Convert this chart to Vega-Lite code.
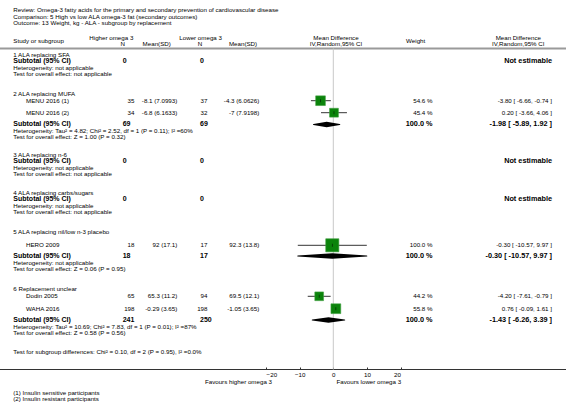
{
  "$schema": "https://vega.github.io/schema/vega-lite/v6.json",
  "width": 566,
  "height": 414,
  "padding": 0,
  "autosize": {"type": "none"},
  "background": "white",
  "config": {
    "view": {"stroke": null},
    "text": {"font": "Liberation Sans", "fontSize": 6.2, "baseline": "middle", "color": "black"}
  },
  "datasets": {
    "txt": [
      {"t": "Review:  Omega-3 fatty acids for the primary and secondary prevention of cardiovascular disease", "row": 1, "col": 1, "k": "l"},
      {"t": "Comparison:  5 High vs low ALA omega-3 fat (secondary outcomes)", "row": 2, "col": 1, "k": "l"},
      {"t": "Outcome:  13 Weight, kg - ALA - subgroup by replacement", "row": 3, "col": 1, "k": "l"},
      {"t": "Study or subgroup", "row": 5, "col": 1, "k": "l"},
      {"t": "Higher omega 3", "row": 4, "col": 3, "k": "l"},
      {"t": "Lower omega 3", "row": 4, "col": 8, "k": "l"},
      {"t": "1 ALA replacing SFA", "row": 8, "col": 1, "k": "l"},
      {"t": "Heterogeneity: not applicable", "row": 10, "col": 1, "k": "l"},
      {"t": "Test for overall effect: not applicable", "row": 11, "col": 1, "k": "l"},
      {"t": "2 ALA replacing MUFA", "row": 12, "col": 1, "k": "l"},
      {"t": "MENU 2016 (1)", "row": 13, "col": 2, "k": "l"},
      {"t": "MENU 2016 (2)", "row": 14, "col": 2, "k": "l"},
      {"t": "Heterogeneity: Tau² = 4.82; Chi² = 2.52, df = 1 (P = 0.11); I² =60%", "row": 16, "col": 1, "k": "l"},
      {"t": "Test for overall effect: Z = 1.00 (P = 0.32)", "row": 17, "col": 1, "k": "l"},
      {"t": "3 ALA replacing n-6", "row": 18, "col": 1, "k": "l"},
      {"t": "Heterogeneity: not applicable", "row": 20, "col": 1, "k": "l"},
      {"t": "Test for overall effect: not applicable", "row": 21, "col": 1, "k": "l"},
      {"t": "4 ALA replacing carbs/sugars", "row": 22, "col": 1, "k": "l"},
      {"t": "Heterogeneity: not applicable", "row": 24, "col": 1, "k": "l"},
      {"t": "Test for overall effect: not applicable", "row": 25, "col": 1, "k": "l"},
      {"t": "5 ALA replacing nil/low n-3 placebo", "row": 26, "col": 1, "k": "l"},
      {"t": "HERO 2009", "row": 27, "col": 2, "k": "l"},
      {"t": "Heterogeneity: not applicable", "row": 29, "col": 1, "k": "l"},
      {"t": "Test for overall effect: Z = 0.06 (P = 0.95)", "row": 30, "col": 1, "k": "l"},
      {"t": "6 Replacement unclear", "row": 31, "col": 1, "k": "l"},
      {"t": "Dodin 2005", "row": 32, "col": 2, "k": "l"},
      {"t": "WAHA 2016", "row": 33, "col": 2, "k": "l"},
      {"t": "Heterogeneity: Tau² = 10.69; Chi² = 7.83, df = 1 (P = 0.01); I² =87%", "row": 35, "col": 1, "k": "l"},
      {"t": "Test for overall effect: Z = 0.58 (P = 0.56)", "row": 36, "col": 1, "k": "l"},
      {"t": "Test for subgroup differences: Chi² = 0.10, df = 2 (P = 0.95), I² =0.0%", "row": 37, "col": 1, "k": "l"},
      {"t": "Favours lower omega 3", "row": 39, "col": 15, "k": "l"},
      {"t": "(1) Insulin sensitive participants", "row": 40, "col": 1, "k": "l"},
      {"t": "(2) Insulin resistant participants", "row": 41, "col": 1, "k": "l"},

      {"t": "Favours higher omega 3", "row": 39, "col": 13, "k": "r"},
      {"t": "35", "row": 13, "col": 5, "k": "r"},
      {"t": "-8.1 (7.0993)", "row": 13, "col": 7, "k": "r"},
      {"t": "37", "row": 13, "col": 10, "k": "r"},
      {"t": "-4.3 (6.0626)", "row": 13, "col": 12, "k": "r"},
      {"t": "54.6 %", "row": 13, "col": 17, "k": "r"},
      {"t": "-3.80 [ -6.66, -0.74 ]", "row": 13, "col": 19, "k": "r"},
      {"t": "34", "row": 14, "col": 5, "k": "r"},
      {"t": "-6.8 (6.1633)", "row": 14, "col": 7, "k": "r"},
      {"t": "32", "row": 14, "col": 10, "k": "r"},
      {"t": "-7 (7.9198)", "row": 14, "col": 12, "k": "r"},
      {"t": "45.4 %", "row": 14, "col": 17, "k": "r"},
      {"t": "0.20 [ -3.66, 4.06 ]", "row": 14, "col": 19, "k": "r"},
      {"t": "18", "row": 27, "col": 5, "k": "r"},
      {"t": "92 (17.1)", "row": 27, "col": 7, "k": "r"},
      {"t": "17", "row": 27, "col": 10, "k": "r"},
      {"t": "92.3 (13.8)", "row": 27, "col": 12, "k": "r"},
      {"t": "100.0 %", "row": 27, "col": 17, "k": "r"},
      {"t": "-0.30 [ -10.57, 9.97 ]", "row": 27, "col": 19, "k": "r"},
      {"t": "65", "row": 32, "col": 5, "k": "r"},
      {"t": "65.3 (11.2)", "row": 32, "col": 7, "k": "r"},
      {"t": "94", "row": 32, "col": 10, "k": "r"},
      {"t": "69.5 (12.1)", "row": 32, "col": 12, "k": "r"},
      {"t": "44.2 %", "row": 32, "col": 17, "k": "r"},
      {"t": "-4.20 [ -7.61, -0.79 ]", "row": 32, "col": 19, "k": "r"},
      {"t": "198", "row": 33, "col": 5, "k": "r"},
      {"t": "-0.29 (3.65)", "row": 33, "col": 7, "k": "r"},
      {"t": "198", "row": 33, "col": 10, "k": "r"},
      {"t": "-1.05 (3.65)", "row": 33, "col": 12, "k": "r"},
      {"t": "55.8 %", "row": 33, "col": 17, "k": "r"},
      {"t": "0.76 [ -0.09, 1.61 ]", "row": 33, "col": 19, "k": "r"},

      {"t": "Mean Difference", "row": 4, "col": 14, "k": "c"},
      {"t": "Mean Difference", "row": 4, "col": 18, "k": "c"},
      {"t": "Weight", "row": 5, "col": 16, "k": "c"},
      {"t": "N", "row": 6, "col": 4, "k": "c"},
      {"t": "Mean(SD)", "row": 6, "col": 6, "k": "c"},
      {"t": "N", "row": 6, "col": 9, "k": "c"},
      {"t": "Mean(SD)", "row": 6, "col": 11, "k": "c"},
      {"t": "IV,Random,95% CI", "row": 6, "col": 14, "k": "c"},
      {"t": "IV,Random,95% CI", "row": 6, "col": 18, "k": "c"},

      {"t": "Subtotal (95% CI)", "row": 9, "col": 1, "k": "b"},
      {"t": "0", "row": 9, "col": 4, "k": "b"},
      {"t": "0", "row": 9, "col": 9, "k": "b"},
      {"t": "Subtotal (95% CI)", "row": 15, "col": 1, "k": "b"},
      {"t": "69", "row": 15, "col": 4, "k": "b"},
      {"t": "69", "row": 15, "col": 9, "k": "b"},
      {"t": "Subtotal (95% CI)", "row": 19, "col": 1, "k": "b"},
      {"t": "0", "row": 19, "col": 4, "k": "b"},
      {"t": "0", "row": 19, "col": 9, "k": "b"},
      {"t": "Subtotal (95% CI)", "row": 23, "col": 1, "k": "b"},
      {"t": "0", "row": 23, "col": 4, "k": "b"},
      {"t": "0", "row": 23, "col": 9, "k": "b"},
      {"t": "Subtotal (95% CI)", "row": 28, "col": 1, "k": "b"},
      {"t": "18", "row": 28, "col": 4, "k": "b"},
      {"t": "17", "row": 28, "col": 9, "k": "b"},
      {"t": "Subtotal (95% CI)", "row": 34, "col": 1, "k": "b"},
      {"t": "241", "row": 34, "col": 4, "k": "b"},
      {"t": "250", "row": 34, "col": 9, "k": "b"},

      {"t": "Not estimable", "row": 9, "col": 19, "k": "br"},
      {"t": "100.0 %", "row": 15, "col": 17, "k": "br"},
      {"t": "-1.98 [ -5.89, 1.92 ]", "row": 15, "col": 19, "k": "br"},
      {"t": "Not estimable", "row": 19, "col": 19, "k": "br"},
      {"t": "Not estimable", "row": 23, "col": 19, "k": "br"},
      {"t": "100.0 %", "row": 28, "col": 17, "k": "br"},
      {"t": "-0.30 [ -10.57, 9.97 ]", "row": 28, "col": 19, "k": "br"},
      {"t": "100.0 %", "row": 34, "col": 17, "k": "br"},
      {"t": "-1.43 [ -6.26, 3.39 ]", "row": 34, "col": 19, "k": "br"}
    ],
    "st": [
      {"study": "MENU 2016 (1)", "row": 13, "md": -3.80, "lo": -6.66, "hi": -0.74, "w": 54.6},
      {"study": "MENU 2016 (2)", "row": 14, "md": 0.20, "lo": -3.66, "hi": 4.06, "w": 45.4},
      {"study": "HERO 2009", "row": 27, "md": -0.30, "lo": -10.57, "hi": 9.97, "w": 100},
      {"study": "Dodin 2005", "row": 32, "md": -4.20, "lo": -7.61, "hi": -0.79, "w": 44.2},
      {"study": "WAHA 2016", "row": 33, "md": 0.76, "lo": -0.09, "hi": 1.61, "w": 55.8}
    ],
    "dm": [
      {"g": "MUFA", "row": 15, "md": -5.89, "h": 0},
      {"g": "MUFA", "row": 15, "md": -1.98, "h": 1},
      {"g": "MUFA", "row": 15, "md": 1.92, "h": 0},
      {"g": "placebo", "row": 28, "md": -10.57, "h": 0},
      {"g": "placebo", "row": 28, "md": -0.30, "h": 1},
      {"g": "placebo", "row": 28, "md": 9.97, "h": 0},
      {"g": "unclear", "row": 34, "md": -6.26, "h": 0},
      {"g": "unclear", "row": 34, "md": -1.43, "h": 1},
      {"g": "unclear", "row": 34, "md": 3.39, "h": 0}
    ],
    "ln": [
      {"k": "hdr", "row": 7, "c1": 0, "c2": 20},
      {"k": "axis", "row": 38, "c1": 0, "c2": 20}
    ],
    "zero": [
      {"md": 0, "r1": 7, "r2": 38}
    ]
  },
  "resolve": {"scale": {"x": "independent", "size": "independent"}},
  "layer": [
    {
      "data": {"name": "ln"},
      "transform": [{"filter": "datum.k === 'hdr'"}],
      "mark": {"type": "rule", "color": "#9a9a9a", "strokeWidth": 2},
      "encoding": {
        "x": {"field": "c1", "type": "quantitative", "axis": null, "scale": {"domain": [0,1,2,3,4,5,6,7,8,9,10,11,12,13,14,15,16,17,18,19,20], "range": [0,13.3,26,89.3,122.7,134.5,156.7,177.3,179.3,200,207.5,243,259.3,272,336,336.5,415.7,432.5,518.3,552,566], "zero": false, "nice": false}},
        "x2": {"field": "c2"},
        "y": {"field": "row", "type": "quantitative", "axis": null, "scale": {"domain": [1,2,3,4,5,6,7,8,9,10,11,12,13,14,15,16,17,18,19,20,21,22,23,24,25,26,27,28,29,30,31,32,33,34,35,36,37,38,39,40,41], "range": [10.3,16.5,22.7,37.5,40.7,43.9,48.5,54.5,61.3,68,74.2,94.3,100.7,112.7,124.4,131,137.2,154.5,161.3,168,174.2,192.5,199.3,206,212.2,232,245.3,256,262.8,269,289,296.3,308.7,320,326.8,333,352,369.5,382.3,392.8,399.2], "zero": false, "nice": false}}
      }
    },
    {
      "data": {"name": "ln"},
      "transform": [{"filter": "datum.k === 'axis'"}],
      "mark": {"type": "rule", "color": "#333333", "strokeWidth": 1},
      "encoding": {
        "x": {"field": "c1", "type": "quantitative", "axis": null, "scale": {"domain": [0,1,2,3,4,5,6,7,8,9,10,11,12,13,14,15,16,17,18,19,20], "range": [0,13.3,26,89.3,122.7,134.5,156.7,177.3,179.3,200,207.5,243,259.3,272,336,336.5,415.7,432.5,518.3,552,566], "zero": false, "nice": false}},
        "x2": {"field": "c2"},
        "y": {"field": "row", "type": "quantitative", "axis": null, "scale": {"domain": [1,2,3,4,5,6,7,8,9,10,11,12,13,14,15,16,17,18,19,20,21,22,23,24,25,26,27,28,29,30,31,32,33,34,35,36,37,38,39,40,41], "range": [10.3,16.5,22.7,37.5,40.7,43.9,48.5,54.5,61.3,68,74.2,94.3,100.7,112.7,124.4,131,137.2,154.5,161.3,168,174.2,192.5,199.3,206,212.2,232,245.3,256,262.8,269,289,296.3,308.7,320,326.8,333,352,369.5,382.3,392.8,399.2], "zero": false, "nice": false}}
      }
    },
    {
      "data": {"name": "zero"},
      "mark": {"type": "rule", "color": "#c8c8c8", "strokeWidth": 1},
      "encoding": {
        "x": {"field": "md", "type": "quantitative", "scale": {"domain": [-20, 20], "range": [266.1, 400.5], "zero": false, "nice": false},
          "axis": {"values": [-20, -10, 0, 10, 20], "format": "d", "orient": "bottom", "offset": -44.5, "domain": false, "grid": false, "ticks": true, "tickSize": -2.5, "tickColor": "#333333", "tickWidth": 1, "labelFont": "Liberation Sans", "labelFontSize": 6.2, "labelColor": "black", "labelPadding": 4.8, "title": null}},
        "y": {"field": "r1", "type": "quantitative", "axis": null, "scale": {"domain": [1,2,3,4,5,6,7,8,9,10,11,12,13,14,15,16,17,18,19,20,21,22,23,24,25,26,27,28,29,30,31,32,33,34,35,36,37,38,39,40,41], "range": [10.3,16.5,22.7,37.5,40.7,43.9,48.5,54.5,61.3,68,74.2,94.3,100.7,112.7,124.4,131,137.2,154.5,161.3,168,174.2,192.5,199.3,206,212.2,232,245.3,256,262.8,269,289,296.3,308.7,320,326.8,333,352,369.5,382.3,392.8,399.2], "zero": false, "nice": false}},
        "y2": {"field": "r2"}
      }
    },
    {
      "data": {"name": "st"},
      "mark": {"type": "rule", "color": "black", "strokeWidth": 0.8},
      "encoding": {
        "x": {"field": "lo", "type": "quantitative", "axis": null, "scale": {"domain": [-20, 20], "range": [266.1, 400.5], "zero": false, "nice": false}},
        "x2": {"field": "hi"},
        "y": {"field": "row", "type": "quantitative", "axis": null, "scale": {"domain": [1,2,3,4,5,6,7,8,9,10,11,12,13,14,15,16,17,18,19,20,21,22,23,24,25,26,27,28,29,30,31,32,33,34,35,36,37,38,39,40,41], "range": [10.3,16.5,22.7,37.5,40.7,43.9,48.5,54.5,61.3,68,74.2,94.3,100.7,112.7,124.4,131,137.2,154.5,161.3,168,174.2,192.5,199.3,206,212.2,232,245.3,256,262.8,269,289,296.3,308.7,320,326.8,333,352,369.5,382.3,392.8,399.2], "zero": false, "nice": false}}
      }
    },
    {
      "data": {"name": "st"},
      "mark": {"type": "point", "shape": "square", "filled": true, "fill": "#0b830b", "stroke": "#3f9f3f", "strokeWidth": 0.6, "opacity": 1},
      "encoding": {
        "x": {"field": "md", "type": "quantitative", "axis": null, "scale": {"domain": [-20, 20], "range": [266.1, 400.5], "zero": false, "nice": false}},
        "y": {"field": "row", "type": "quantitative", "axis": null, "scale": {"domain": [1,2,3,4,5,6,7,8,9,10,11,12,13,14,15,16,17,18,19,20,21,22,23,24,25,26,27,28,29,30,31,32,33,34,35,36,37,38,39,40,41], "range": [10.3,16.5,22.7,37.5,40.7,43.9,48.5,54.5,61.3,68,74.2,94.3,100.7,112.7,124.4,131,137.2,154.5,161.3,168,174.2,192.5,199.3,206,212.2,232,245.3,256,262.8,269,289,296.3,308.7,320,326.8,333,352,369.5,382.3,392.8,399.2], "zero": false, "nice": false}},
        "size": {"field": "w", "type": "quantitative", "legend": null, "scale": {"domain": [0, 100], "range": [0, 172], "zero": true}}
      }
    },
    {
      "data": {"name": "st"},
      "mark": {"type": "tick", "orient": "vertical", "color": "black", "size": 3, "thickness": 0.7},
      "encoding": {
        "x": {"field": "md", "type": "quantitative", "axis": null, "scale": {"domain": [-20, 20], "range": [266.1, 400.5], "zero": false, "nice": false}},
        "y": {"field": "row", "type": "quantitative", "axis": null, "scale": {"domain": [1,2,3,4,5,6,7,8,9,10,11,12,13,14,15,16,17,18,19,20,21,22,23,24,25,26,27,28,29,30,31,32,33,34,35,36,37,38,39,40,41], "range": [10.3,16.5,22.7,37.5,40.7,43.9,48.5,54.5,61.3,68,74.2,94.3,100.7,112.7,124.4,131,137.2,154.5,161.3,168,174.2,192.5,199.3,206,212.2,232,245.3,256,262.8,269,289,296.3,308.7,320,326.8,333,352,369.5,382.3,392.8,399.2], "zero": false, "nice": false}}
      }
    },
    {
      "data": {"name": "dm"},
      "mark": {"type": "trail", "color": "black"},
      "encoding": {
        "x": {"field": "md", "type": "quantitative", "axis": null, "scale": {"domain": [-20, 20], "range": [266.1, 400.5], "zero": false, "nice": false}},
        "y": {"field": "row", "type": "quantitative", "axis": null, "scale": {"domain": [1,2,3,4,5,6,7,8,9,10,11,12,13,14,15,16,17,18,19,20,21,22,23,24,25,26,27,28,29,30,31,32,33,34,35,36,37,38,39,40,41], "range": [10.3,16.5,22.7,37.5,40.7,43.9,48.5,54.5,61.3,68,74.2,94.3,100.7,112.7,124.4,131,137.2,154.5,161.3,168,174.2,192.5,199.3,206,212.2,232,245.3,256,262.8,269,289,296.3,308.7,320,326.8,333,352,369.5,382.3,392.8,399.2], "zero": false, "nice": false}},
        "size": {"field": "h", "type": "quantitative", "legend": null, "scale": {"domain": [0, 1], "range": [0, 5.5]}},
        "detail": {"field": "g"},
        "order": {"field": "md", "type": "quantitative"}
      }
    },
    {
      "data": {"name": "txt"},
      "transform": [{"filter": "datum.k === 'l'"}],
      "mark": {"type": "text", "align": "left"},
      "encoding": {
        "x": {"field": "col", "type": "quantitative", "axis": null, "scale": {"domain": [0,1,2,3,4,5,6,7,8,9,10,11,12,13,14,15,16,17,18,19,20], "range": [0,13.3,26,89.3,122.7,134.5,156.7,177.3,179.3,200,207.5,243,259.3,272,336,336.5,415.7,432.5,518.3,552,566], "zero": false, "nice": false}},
        "y": {"field": "row", "type": "quantitative", "axis": null, "scale": {"domain": [1,2,3,4,5,6,7,8,9,10,11,12,13,14,15,16,17,18,19,20,21,22,23,24,25,26,27,28,29,30,31,32,33,34,35,36,37,38,39,40,41], "range": [10.3,16.5,22.7,37.5,40.7,43.9,48.5,54.5,61.3,68,74.2,94.3,100.7,112.7,124.4,131,137.2,154.5,161.3,168,174.2,192.5,199.3,206,212.2,232,245.3,256,262.8,269,289,296.3,308.7,320,326.8,333,352,369.5,382.3,392.8,399.2], "zero": false, "nice": false}},
        "text": {"field": "t"}
      }
    },
    {
      "data": {"name": "txt"},
      "transform": [{"filter": "datum.k === 'r'"}],
      "mark": {"type": "text", "align": "right"},
      "encoding": {
        "x": {"field": "col", "type": "quantitative", "axis": null, "scale": {"domain": [0,1,2,3,4,5,6,7,8,9,10,11,12,13,14,15,16,17,18,19,20], "range": [0,13.3,26,89.3,122.7,134.5,156.7,177.3,179.3,200,207.5,243,259.3,272,336,336.5,415.7,432.5,518.3,552,566], "zero": false, "nice": false}},
        "y": {"field": "row", "type": "quantitative", "axis": null, "scale": {"domain": [1,2,3,4,5,6,7,8,9,10,11,12,13,14,15,16,17,18,19,20,21,22,23,24,25,26,27,28,29,30,31,32,33,34,35,36,37,38,39,40,41], "range": [10.3,16.5,22.7,37.5,40.7,43.9,48.5,54.5,61.3,68,74.2,94.3,100.7,112.7,124.4,131,137.2,154.5,161.3,168,174.2,192.5,199.3,206,212.2,232,245.3,256,262.8,269,289,296.3,308.7,320,326.8,333,352,369.5,382.3,392.8,399.2], "zero": false, "nice": false}},
        "text": {"field": "t"}
      }
    },
    {
      "data": {"name": "txt"},
      "transform": [{"filter": "datum.k === 'c'"}],
      "mark": {"type": "text", "align": "center"},
      "encoding": {
        "x": {"field": "col", "type": "quantitative", "axis": null, "scale": {"domain": [0,1,2,3,4,5,6,7,8,9,10,11,12,13,14,15,16,17,18,19,20], "range": [0,13.3,26,89.3,122.7,134.5,156.7,177.3,179.3,200,207.5,243,259.3,272,336,336.5,415.7,432.5,518.3,552,566], "zero": false, "nice": false}},
        "y": {"field": "row", "type": "quantitative", "axis": null, "scale": {"domain": [1,2,3,4,5,6,7,8,9,10,11,12,13,14,15,16,17,18,19,20,21,22,23,24,25,26,27,28,29,30,31,32,33,34,35,36,37,38,39,40,41], "range": [10.3,16.5,22.7,37.5,40.7,43.9,48.5,54.5,61.3,68,74.2,94.3,100.7,112.7,124.4,131,137.2,154.5,161.3,168,174.2,192.5,199.3,206,212.2,232,245.3,256,262.8,269,289,296.3,308.7,320,326.8,333,352,369.5,382.3,392.8,399.2], "zero": false, "nice": false}},
        "text": {"field": "t"}
      }
    },
    {
      "data": {"name": "txt"},
      "transform": [{"filter": "datum.k === 'b'"}],
      "mark": {"type": "text", "align": "left", "fontWeight": "bold", "fontSize": 7},
      "encoding": {
        "x": {"field": "col", "type": "quantitative", "axis": null, "scale": {"domain": [0,1,2,3,4,5,6,7,8,9,10,11,12,13,14,15,16,17,18,19,20], "range": [0,13.3,26,89.3,122.7,134.5,156.7,177.3,179.3,200,207.5,243,259.3,272,336,336.5,415.7,432.5,518.3,552,566], "zero": false, "nice": false}},
        "y": {"field": "row", "type": "quantitative", "axis": null, "scale": {"domain": [1,2,3,4,5,6,7,8,9,10,11,12,13,14,15,16,17,18,19,20,21,22,23,24,25,26,27,28,29,30,31,32,33,34,35,36,37,38,39,40,41], "range": [10.3,16.5,22.7,37.5,40.7,43.9,48.5,54.5,61.3,68,74.2,94.3,100.7,112.7,124.4,131,137.2,154.5,161.3,168,174.2,192.5,199.3,206,212.2,232,245.3,256,262.8,269,289,296.3,308.7,320,326.8,333,352,369.5,382.3,392.8,399.2], "zero": false, "nice": false}},
        "text": {"field": "t"}
      }
    },
    {
      "data": {"name": "txt"},
      "transform": [{"filter": "datum.k === 'br'"}],
      "mark": {"type": "text", "align": "right", "fontWeight": "bold", "fontSize": 7.3},
      "encoding": {
        "x": {"field": "col", "type": "quantitative", "axis": null, "scale": {"domain": [0,1,2,3,4,5,6,7,8,9,10,11,12,13,14,15,16,17,18,19,20], "range": [0,13.3,26,89.3,122.7,134.5,156.7,177.3,179.3,200,207.5,243,259.3,272,336,336.5,415.7,432.5,518.3,552,566], "zero": false, "nice": false}},
        "y": {"field": "row", "type": "quantitative", "axis": null, "scale": {"domain": [1,2,3,4,5,6,7,8,9,10,11,12,13,14,15,16,17,18,19,20,21,22,23,24,25,26,27,28,29,30,31,32,33,34,35,36,37,38,39,40,41], "range": [10.3,16.5,22.7,37.5,40.7,43.9,48.5,54.5,61.3,68,74.2,94.3,100.7,112.7,124.4,131,137.2,154.5,161.3,168,174.2,192.5,199.3,206,212.2,232,245.3,256,262.8,269,289,296.3,308.7,320,326.8,333,352,369.5,382.3,392.8,399.2], "zero": false, "nice": false}},
        "text": {"field": "t"}
      }
    }
  ]
}
